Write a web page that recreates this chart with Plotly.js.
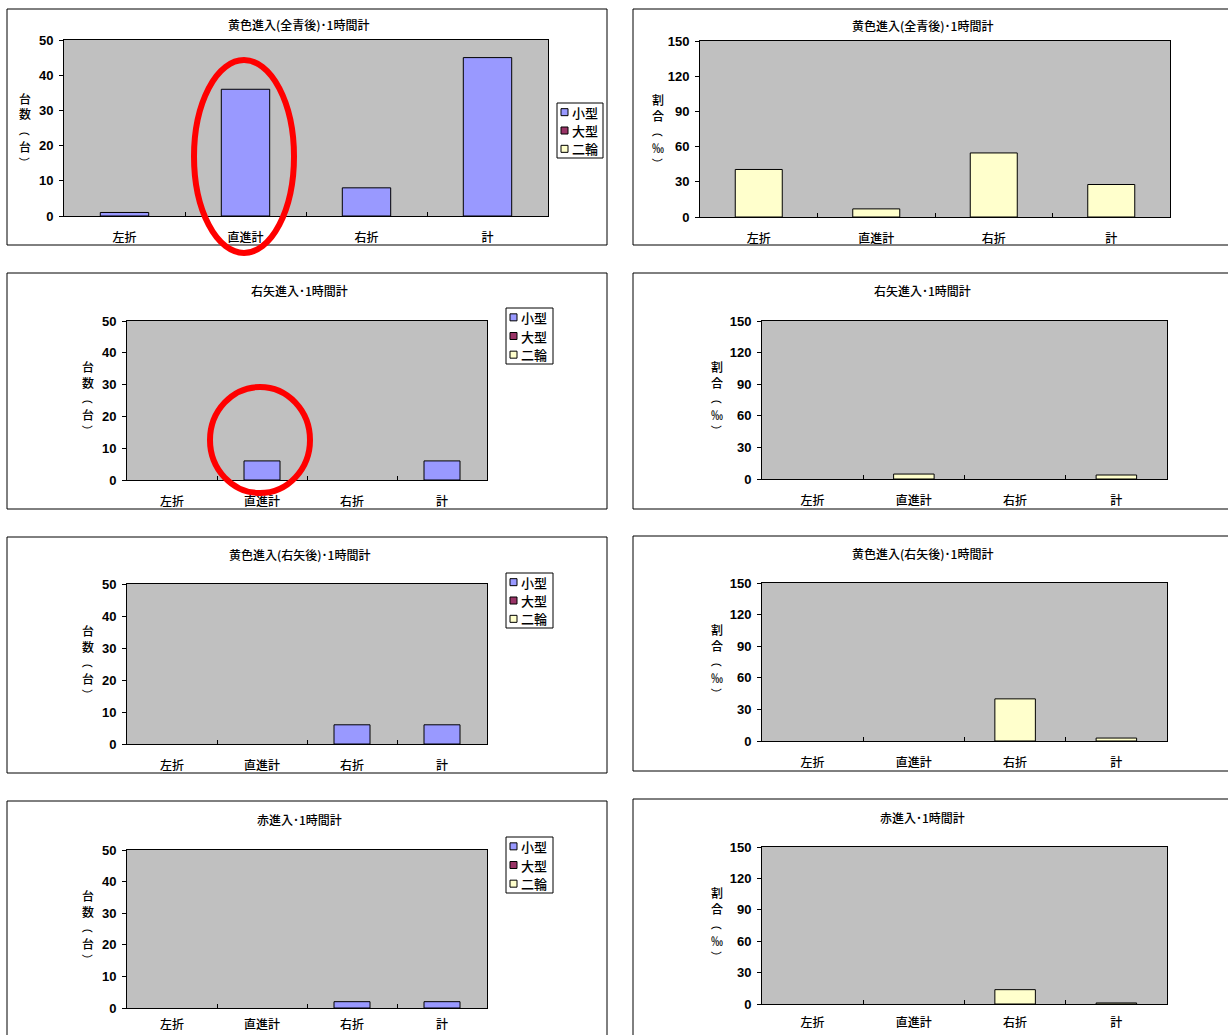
<!DOCTYPE html>
<html>
<head>
<meta charset="utf-8">
<script src="https://cdn.plot.ly/plotly-3.0.1.min.js"></script>
<style>
  html, body { margin: 0; padding: 0; background: #fff; }
  #chart { width: 1228px; height: 1035px; }
</style>
</head>
<body>
<div id="chart"></div>
<script>
// Categories, series and values (vehicles per hour / per-mille ratio)
const categories = ['左折', '直進計', '右折', '計'];
const seriesNames = ['小型', '大型', '二輪'];
const seriesColors = ['#9999FF', '#993366', '#FFFFCC'];
const ratioColor = '#FFFFCC';

const titles = [
  '黄色進入(全青後)･1時間計',
  '右矢進入･1時間計',
  '黄色進入(右矢後)･1時間計',
  '赤進入･1時間計'
];

// 台数（台）
const zenAoSmall = [1, 36, 8, 45];
const zenAoLarge = [0, 0, 0, 0];
const zenAoBike = [0, 0, 0, 0];
const yajiSmall = [0, 6, 0, 6];
const yajiLarge = [0, 0, 0, 0];
const yajiBike = [0, 0, 0, 0];
const yajiGoSmall = [0, 0, 6, 6];
const yajiGoLarge = [0, 0, 0, 0];
const yajiGoBike = [0, 0, 0, 0];
const akaSmall = [0, 0, 2, 2];
const akaLarge = [0, 0, 0, 0];
const akaBike = [0, 0, 0, 0];

// 割合（‰）
const zenAoRatio = [40.5, 6.9, 54.6, 27.7];
const yajiRatio = [0, 4.7, 0, 3.8];
const yajiGoRatio = [0, 0, 40.0, 2.8];
const akaRatio = [0, 0, 13.7, 1.0];

const countAxisLabel = ['台', '数', '（', '台', '）'];
const ratioAxisLabel = ['割', '合', '（', '‰', '）'];

const countTicks = { range: [0, 50], dtick: 10 };
const ratioTicks = { range: [0, 150], dtick: 30 };

// ---- page geometry (pixels) ----
const W = 1228, H = 1035;
const fx = x => x / W;
const fy = y => 1 - y / H;
const FONT = '"Noto Sans CJK JP", "Noto Sans", sans-serif';
const NUMFONT = '"Liberation Sans Narrow", "Liberation Sans", Arial, sans-serif';

const countSets = [
  [zenAoSmall, zenAoLarge, zenAoBike],
  [yajiSmall, yajiLarge, yajiBike],
  [yajiGoSmall, yajiGoLarge, yajiGoBike],
  [akaSmall, akaLarge, akaBike]
];
const ratioSets = [zenAoRatio, yajiRatio, yajiGoRatio, akaRatio];

// frames: box = outer border, plot = plotting area, title position, axis-title centre, legend box
const leftFrames = [
  { box: [7, 9, 607, 245],    plot: [64, 40, 548, 216],   tx: 298, ty: 25,  ax: 25, ay: 130, so: 11, legend: [557, 103, 603, 158] },
  { box: [7, 273, 607, 509],  plot: [127, 321, 487, 480], tx: 299, ty: 290, ax: 88, ay: 398, so: 11, legend: [506, 308, 553, 364] },
  { box: [7, 537, 607, 773],  plot: [127, 584, 487, 744], tx: 299, ty: 554, ax: 88, ay: 662, so: 11, legend: [506, 573, 553, 628] },
  { box: [7, 801, 607, 1040], plot: [127, 850, 487, 1008], tx: 299, ty: 819, ax: 88, ay: 927, so: 6,  legend: [506, 837, 553, 893] }
];
const rightFrames = [
  { box: [633, 9, 1240, 245],    plot: [700, 41, 1170, 217],  tx: 922, ty: 26,  ax: 658, ay: 131, so: 11 },
  { box: [633, 273, 1240, 509],  plot: [762, 321, 1167, 479], tx: 922, ty: 290, ax: 717, ay: 398, so: 11 },
  { box: [633, 536, 1240, 771],  plot: [762, 583, 1167, 741], tx: 922, ty: 553, ax: 717, ay: 661, so: 11 },
  { box: [633, 799, 1240, 1040], plot: [762, 847, 1167, 1004], tx: 922, ty: 817, ax: 717, ay: 924, so: 8 }
];

const traces = [];
const layout = {
  width: W, height: H,
  margin: { l: 0, r: 0, t: 0, b: 0 },
  paper_bgcolor: '#FFFFFF',
  plot_bgcolor: '#C0C0C0',
  barmode: 'overlay',
  showlegend: false,
  font: { family: FONT, color: '#000', size: 12 },
  shapes: [],
  annotations: []
};

// empty cells are not drawn as bars
const shown = vals => vals.map(v => (v === 0 ? null : v));

function addAxes(n, f, ticks) {
  const xs = n === 1 ? '' : String(n);
  layout['xaxis' + xs] = {
    domain: [fx(f.plot[0]), fx(f.plot[2])],
    anchor: 'y' + xs,
    type: 'category',
    categoryarray: categories,
    range: [-0.5, 3.5],
    showline: true, mirror: true, linecolor: '#000', linewidth: 1,
    ticks: 'inside', tickson: 'boundaries', ticklen: 4, tickcolor: '#000',
    tickfont: { family: FONT, size: 12, color: '#000', weight: 500 },
    ticklabelstandoff: f.so,
    showgrid: false, zeroline: false, fixedrange: true
  };
  layout['yaxis' + xs] = {
    domain: [fy(f.plot[3]), fy(f.plot[1])],
    anchor: 'x' + xs,
    range: ticks.range, dtick: ticks.dtick, tick0: 0,
    showline: true, mirror: true, linecolor: '#000', linewidth: 1,
    ticks: 'outside', ticklen: 4, tickcolor: '#000',
    tickfont: { family: NUMFONT, size: 13, color: '#000', weight: 'bold' },
    ticklabelstandoff: 3,
    showgrid: false, zeroline: false, fixedrange: true
  };
  return { x: 'x' + xs, y: 'y' + xs };
}

function addFrame(f, title, axisChars) {
  layout.shapes.push({
    type: 'rect', xref: 'paper', yref: 'paper',
    x0: fx(f.box[0]), x1: fx(f.box[2]), y0: fy(f.box[3]), y1: fy(f.box[1]),
    line: { color: '#000', width: 1 }, fillcolor: 'rgba(0,0,0,0)', layer: 'below'
  });
  layout.annotations.push({
    xref: 'paper', yref: 'paper', x: fx(f.tx), y: fy(f.ty),
    xanchor: 'center', yanchor: 'middle', showarrow: false,
    text: title, font: { family: FONT, size: 12, color: '#000', weight: 500 }
  });
  // stacked (vertical) axis title, brackets turned a quarter
  const offsets = [-32, -16, 0, 16, 32];
  axisChars.forEach((ch, i) => {
    const isBracket = ch === '（' || ch === '）';
    layout.annotations.push({
      xref: 'paper', yref: 'paper', x: fx(f.ax), y: fy(f.ay + offsets[i]),
      xanchor: 'center', yanchor: 'middle', showarrow: false,
      borderpad: 0, borderwidth: 0,
      textangle: isBracket ? 90 : 0,
      text: ch, font: { family: FONT, size: isBracket ? 11 : 12, color: '#000', weight: 500 }
    });
  });
}

function addLegend(f) {
  const [l, t, r, b] = f.legend;
  layout.shapes.push({
    type: 'rect', xref: 'paper', yref: 'paper',
    x0: fx(l), x1: fx(r), y0: fy(b), y1: fy(t),
    line: { color: '#000', width: 1 }, fillcolor: '#FFFFFF'
  });
  const step = (b - t) / 3;
  seriesNames.forEach((name, i) => {
    const cy = t + step * (i + 0.5);
    layout.shapes.push({
      type: 'rect', xref: 'paper', yref: 'paper',
      x0: fx(l + 4), x1: fx(l + 11), y0: fy(cy + 3.5), y1: fy(cy - 3.5),
      line: { color: '#000', width: 1 }, fillcolor: seriesColors[i]
    });
    layout.annotations.push({
      xref: 'paper', yref: 'paper', x: fx(l + 15), y: fy(cy),
      xanchor: 'left', yanchor: 'middle', showarrow: false,
      borderpad: 0, borderwidth: 0,
      text: name, font: { family: FONT, size: 13, color: '#000', weight: 500 }
    });
  });
}

// left column: vehicle counts by type
leftFrames.forEach((f, k) => {
  const ax = addAxes(2 * k + 1, f, countTicks);
  countSets[k].forEach((vals, i) => {
    traces.push({
      type: 'bar', x: categories, y: shown(vals), name: seriesNames[i],
      xaxis: ax.x, yaxis: ax.y, width: 0.4,
      marker: { color: seriesColors[i], line: { color: '#000', width: 1 } },
      hoverinfo: 'x+y+name'
    });
  });
  addFrame(f, titles[k], countAxisLabel);
  addLegend(f);
});

// right column: per-mille ratio
rightFrames.forEach((f, k) => {
  const ax = addAxes(2 * k + 2, f, ratioTicks);
  traces.push({
    type: 'bar', x: categories, y: shown(ratioSets[k]), name: '割合',
    xaxis: ax.x, yaxis: ax.y, width: 0.4,
    marker: { color: ratioColor, line: { color: '#000', width: 1 } },
    hoverinfo: 'x+y'
  });
  addFrame(f, titles[k], ratioAxisLabel);
});

// red highlight rings around the straight-through bars
[[191, 57, 297, 256], [207, 384, 313, 496]].forEach(([x0, y0, x1, y1]) => {
  layout.shapes.push({
    type: 'circle', xref: 'paper', yref: 'paper',
    x0: fx(x0 + 3), x1: fx(x1 - 3), y0: fy(y1 - 3), y1: fy(y0 + 3),
    line: { color: '#FF0000', width: 6 }, fillcolor: 'rgba(0,0,0,0)'
  });
});

Plotly.newPlot('chart', traces, layout, { staticPlot: true, displayModeBar: false });
</script>
</body>
</html>
